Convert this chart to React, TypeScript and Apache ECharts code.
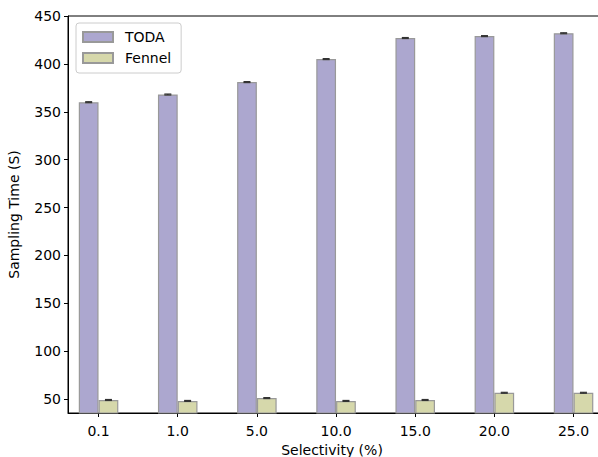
import React, { useEffect, useRef } from "react";
import * as echarts from "echarts";

const categories = ["0.1", "1.0", "5.0", "10.0", "15.0", "20.0", "25.0"];
const todaValues = [360, 368, 381, 405, 427, 429, 432];
const fennelValues = [49, 48, 51, 48, 49, 56.5, 56.5];
const todaErrors = [0.5, 0.5, 0.5, 0.5, 0.5, 0.5, 0.5];
const fennelErrors = [0.5, 0.5, 0.5, 0.5, 0.5, 0.5, 0.5];
const yTicks = [50, 100, 150, 200, 250, 300, 350, 400, 450];

const FONT = "DejaVu Sans";
const BAR_W = 0.25;

export default function App() {
  const ref = useRef<HTMLDivElement>(null);
  useEffect(() => {
    if (!ref.current) return;
    const chart = echarts.init(ref.current, undefined, { renderer: "svg" });
    const idx = categories.map((_, i) => i);
    const todaData = idx.map((i) => [i - BAR_W / 2, todaValues[i]]);
    const fennelData = idx.map((i) => [i + BAR_W / 2, fennelValues[i]]);
    const errData = [
      ...idx.map((i) => [i - BAR_W / 2, todaValues[i], todaErrors[i]]),
      ...idx.map((i) => [i + BAR_W / 2, fennelValues[i], fennelErrors[i]]),
    ];
    const option: any = {
      animation: false,
      backgroundColor: "#fff",
      grid: {
        left: 68,
        top: 16,
        bottom: 44,
        right: -8,
        show: true,
        borderColor: "#000",
        borderWidth: 1,
        containLabel: false,
        outerBoundsMode: "none",
      },
      legend: {
        orient: "vertical",
        left: 76,
        top: 23,
        padding: [7, 10, 8, 6],
        itemGap: 7,
        itemWidth: 30,
        itemHeight: 10,
        icon: "rect",
        backgroundColor: "rgba(255,255,255,0.8)",
        borderColor: "#cccccc",
        borderWidth: 1,
        borderRadius: 3,
        textStyle: { fontFamily: FONT, fontSize: 14, color: "#000", padding: [0, 0, 0, 7] },
        data: ["TODA", "Fennel"],
      },
      xAxis: {
        type: "value",
        min: -0.386,
        max: 6.41,
        name: "Selectivity (%)",
        nameLocation: "middle",
        nameGap: 30,
        nameTextStyle: { fontFamily: FONT, fontSize: 14, color: "#000", padding: [0, 10, 0, 0] },
        splitLine: { show: false },
        axisLine: { show: true, onZero: false, lineStyle: { color: "#000", width: 1 } },
        axisTick: {
          show: true,
          length: 4,
          inside: false,
          customValues: idx,
          lineStyle: { color: "#000" },
        },
        axisLabel: {
          customValues: idx,
          margin: 11,
          fontFamily: FONT,
          fontSize: 14,
          color: "#000",
          formatter: (v: number) => categories[Math.round(v)] ?? "",
        },
      },
      yAxis: {
        type: "value",
        min: 35.4,
        max: 450,
        name: "Sampling Time (S)",
        nameLocation: "middle",
        nameGap: 47,
        nameTextStyle: { fontFamily: FONT, fontSize: 14, color: "#000" },
        splitLine: { show: false },
        axisLine: { show: true, onZero: false, lineStyle: { color: "#000", width: 1 } },
        axisTick: {
          show: true,
          length: 4,
          inside: false,
          customValues: yTicks,
          lineStyle: { color: "#000" },
        },
        axisLabel: {
          customValues: yTicks,
          margin: 7,
          fontFamily: FONT,
          fontSize: 14,
          color: "#000",
        },
      },
      series: [
        {
          name: "TODA",
          type: "bar",
          data: todaData,
          barWidth: 19.75,
          barGap: "-100%",
          itemStyle: { color: "#aca7cf", borderColor: "#999999", borderWidth: 1.2 },
        },
        {
          name: "Fennel",
          type: "bar",
          data: fennelData,
          barWidth: 19.75,
          barGap: "-100%",
          itemStyle: { color: "#d6d8ab", borderColor: "#999999", borderWidth: 1.2 },
        },
        {
          type: "custom",
          data: errData,
          z: 10,
          renderItem: (params: any, api: any) => {
            const x = api.value(0);
            const y = api.value(1);
            const e = api.value(2);
            const top = api.coord([x, y + e]);
            const bot = api.coord([x, y - e]);
            const half = 3.5;
            const style = { stroke: "#333333", lineWidth: 1.2 };
            return {
              type: "group",
              children: [
                { type: "line", shape: { x1: top[0], y1: top[1], x2: bot[0], y2: bot[1] }, style },
                { type: "line", shape: { x1: top[0] - half, y1: top[1], x2: top[0] + half, y2: top[1] }, style },
                { type: "line", shape: { x1: bot[0] - half, y1: bot[1], x2: bot[0] + half, y2: bot[1] }, style },
              ],
            };
          },
        },
      ],
    };
    chart.setOption(option);
    return () => chart.dispose();
  }, []);
  return (
    <div
      ref={ref}
      style={{ position: "absolute", left: 0, top: 0, width: 598, height: 457 }}
    />
  );
}
